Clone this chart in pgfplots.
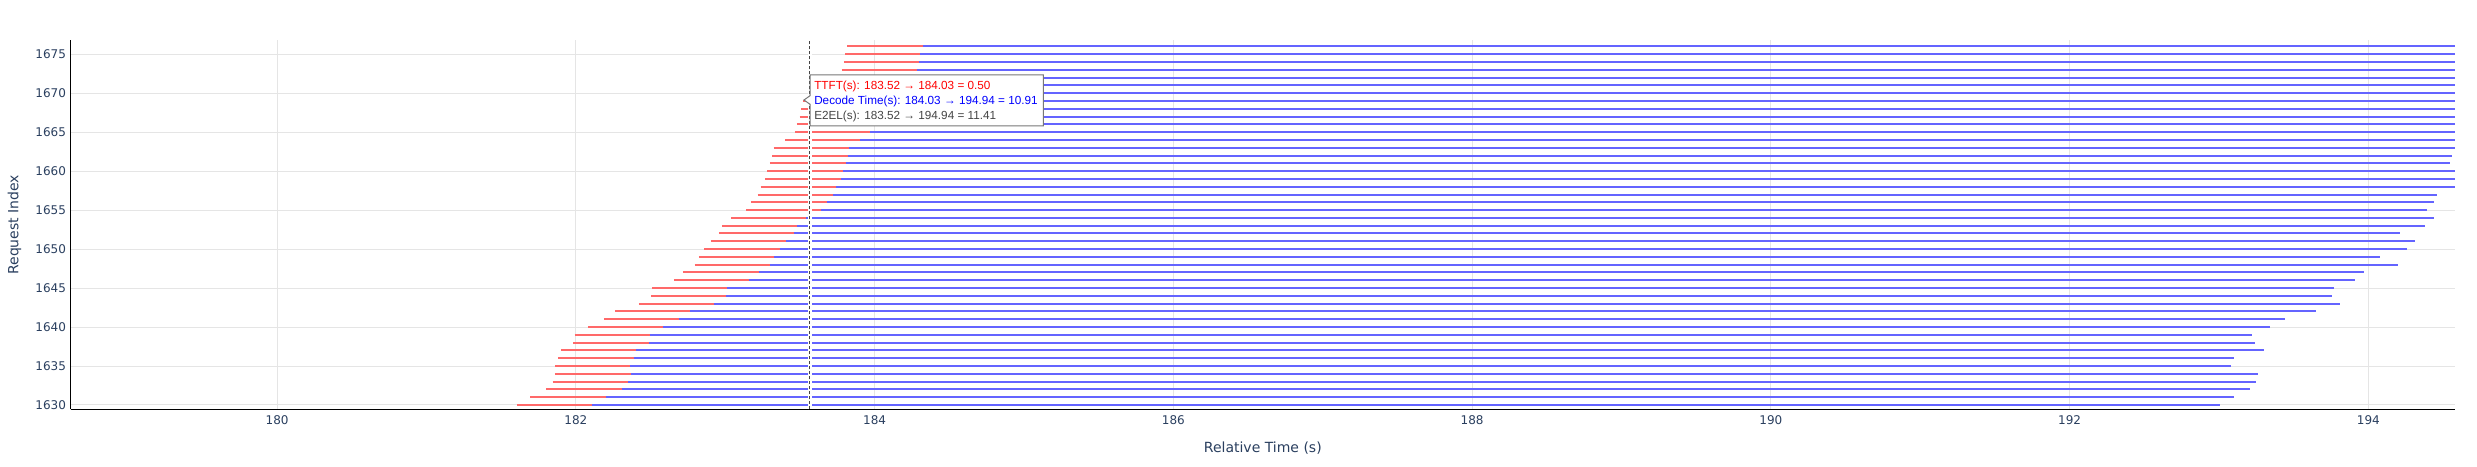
\documentclass[border=0pt]{standalone}
\usepackage{fontspec}
\setmainfont{DejaVu Sans}
\newfontfamily\hoverfont{Liberation Sans}
\usepackage{pgfplots}
\pgfplotsset{compat=1.18}
\usepackage{pgfplotstable}

\definecolor{plotlyfont}{HTML}{2A3F5F}
\definecolor{gridgray}{HTML}{E5E5E5}
\definecolor{ttftred}{RGB}{255,105,105}
\definecolor{decodeblue}{RGB}{100,100,255}
\definecolor{hovergray}{HTML}{444444}
\definecolor{hoverborder}{HTML}{777777}

% request index, start, first token, end (s)
\pgfplotstableread{
idx  start    ttft     end
1630 181.605 182.109 193.01
1631 181.696 182.199 193.10
1632 181.801 182.308 193.21
1633 181.844 182.350 193.25
1634 181.859 182.368 193.26
1635 181.862 182.364 193.08
1636 181.882 182.386 193.10
1637 181.902 182.406 193.30
1638 181.984 182.491 193.24
1639 181.991 182.496 193.22
1640 182.080 182.585 193.34
1641 182.188 182.690 193.44
1642 182.263 182.763 193.65
1643 182.422 182.924 193.81
1644 182.504 183.007 193.76
1645 182.509 183.013 193.77
1646 182.656 183.161 193.91
1647 182.717 183.223 193.97
1648 182.795 183.301 194.20
1649 182.824 183.328 194.08
1650 182.859 183.364 194.26
1651 182.904 183.408 194.31
1652 182.958 183.458 194.21
1653 182.978 183.482 194.38
1654 183.042 183.542 194.44
1655 183.141 183.643 194.39
1656 183.174 183.679 194.44
1657 183.217 183.721 194.46
1658 183.237 183.743 194.70
1659 183.268 183.775 194.75
1660 183.283 183.788 194.80
1661 183.299 183.808 194.55
1662 183.315 183.819 194.56
1663 183.324 183.826 194.85
1664 183.402 183.904 194.90
1665 183.467 183.971 194.90
1666 183.480 183.980 194.95
1667 183.498 184.000 194.95
1668 183.510 184.015 194.95
1669 183.520 184.030 194.94
1670 183.580 184.080 195.00
1671 183.650 184.150 195.00
1672 183.720 184.220 195.00
1673 183.779 184.283 195.00
1674 183.795 184.295 195.00
1675 183.804 184.306 195.00
1676 183.817 184.324 195.00
}\reqdata

\begin{document}
\begin{tikzpicture}
\useasboundingbox (0,0) rectangle (1857.75pt,350.25pt);
\begin{axis}[
  at={(53pt,43.3pt)}, anchor=south west,
  width=1788.2pt, height=277pt, scale only axis,
  xmin=178.618, xmax=194.58, ymin=1629.45, ymax=1676.83,
  xtick={180,182,...,194}, ytick={1630,1635,...,1675},
  scaled ticks=false,
  /pgf/number format/1000 sep={},
  /pgf/number format/assume math mode=true,
  axis lines*=left,
  axis line style={black, line width=1pt, -},
  tick style={draw=none},
  grid=major,
  major grid style={gridgray, line width=0.75pt},
  tick label style={font=\fontsize{9}{10}\selectfont, text=plotlyfont},
  xticklabel style={yshift=-1pt},
]
% TTFT part
\addplot[draw=none, forget plot,
  error bars/.cd, x dir=plus, x explicit, error mark=none,
  error bar style={draw=ttftred, line width=1.5pt}]
  table[x=start, y=idx, x error expr=\thisrow{ttft}-\thisrow{start}] {\reqdata};
% decode part
\addplot[draw=none, forget plot,
  error bars/.cd, x dir=plus, x explicit, error mark=none,
  error bar style={draw=decodeblue, line width=1.5pt}]
  table[x=ttft, y=idx, x error expr=\thisrow{end}-\thisrow{ttft}] {\reqdata};
% hover spike line
\draw[white, line width=2.5pt] (axis cs:183.567,1629.45) -- (axis cs:183.567,1676.83);
\draw[hovergray, line width=0.75pt, dash pattern=on 2.25pt off 1.5pt]
  (axis cs:183.567,1629.45) -- (axis cs:183.567,1676.83);
\end{axis}

\node[anchor=base, font=\fontsize{10.5}{12}\selectfont, text=plotlyfont]
  at (947.1pt,10.7pt) {Relative Time (s)};
\node[rotate=90, anchor=base, font=\fontsize{10.5}{12}\selectfont, text=plotlyfont]
  at (13.7pt,181.7pt) {Request Index};

% hover label
\filldraw[fill=white, draw=hoverborder, line width=0.75pt]
  (607.5pt,255.75pt) -- (607.5pt,272.05pt) -- (603pt,275.25pt) -- (607.5pt,278.45pt)
  -- (607.5pt,294pt) -- (782.5pt,294pt) -- (782.5pt,255.75pt) -- cycle;
\begin{scope}[every node/.style={anchor=base west, inner sep=0pt, font=\hoverfont\fontsize{8.8}{10}\selectfont}]
\node[text=red] at (610.5pt,282.75pt) {TTFT(s): 183.52 → 184.03 = 0.50};
\node[text=blue] at (610.5pt,271.5pt) {Decode Time(s): 184.03 → 194.94 = 10.91};
\node[text=hovergray] at (610.5pt,260.25pt) {E2EL(s): 183.52 → 194.94 = 11.41};
\end{scope}
\end{tikzpicture}
\end{document}
